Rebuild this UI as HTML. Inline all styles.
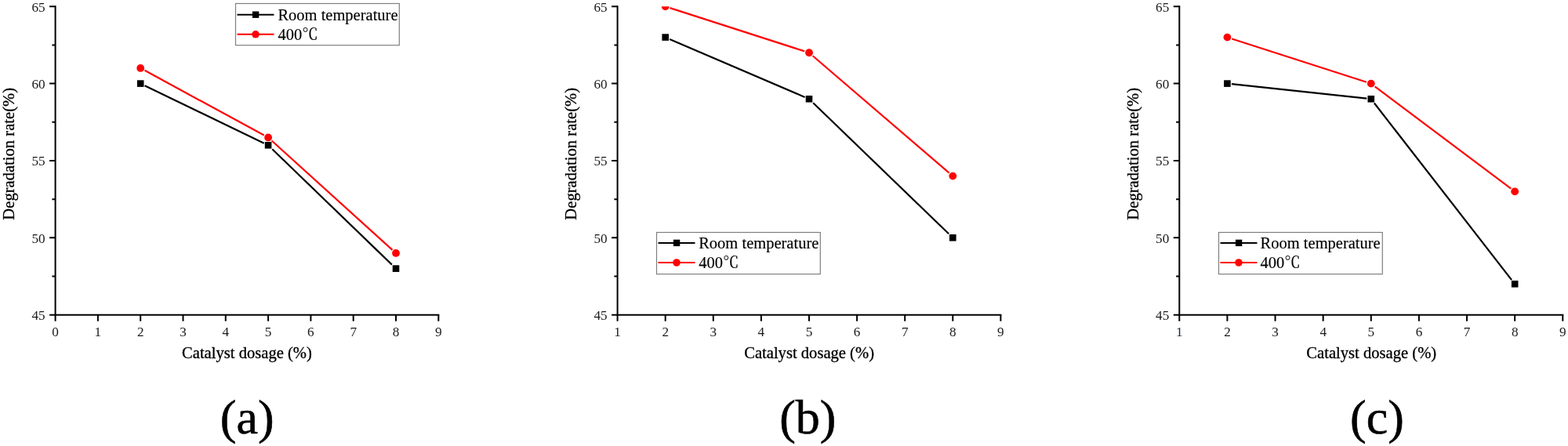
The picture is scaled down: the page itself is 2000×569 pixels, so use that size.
<!DOCTYPE html>
<html><head><meta charset="utf-8"><title>Degradation rate vs catalyst dosage</title>
<style>
html,body{margin:0;padding:0;background:#fff;}
body{width:2000px;height:569px;overflow:hidden;}
svg{display:block;}
text{font-family:'Liberation Serif', 'Noto Serif CJK SC', serif;fill:#000;}
.tl{font-size:17.2px;fill:#1a1a1a;}
.at{font-size:20.6px;stroke:#000;stroke-width:0.3px;}
.lg{font-size:20.5px;stroke:#000;stroke-width:0.15px;}
.pl{font-size:62px;stroke:#000;stroke-width:0.6px;}
</style></head><body>
<svg width="2000" height="569" viewBox="0 0 2000 569">
<g><path d="M70.60 7.25V401.65H560.30" fill="none" stroke="#000" stroke-width="2"/><path d="M63.10 401.65H70.60M63.10 303.30H70.60M63.10 204.95H70.60M63.10 106.60H70.60M63.10 8.25H70.60M66.40 352.48H70.60M66.40 254.13H70.60M66.40 155.78H70.60M66.40 57.43H70.60M70.60 401.65V409.85M124.90 401.65V409.85M179.20 401.65V409.85M233.50 401.65V409.85M287.80 401.65V409.85M342.10 401.65V409.85M396.40 401.65V409.85M450.70 401.65V409.85M505.00 401.65V409.85M559.30 401.65V409.85" fill="none" stroke="#000" stroke-width="2"/><text transform="translate(57.60 408.05) scale(1 1.0)" class="tl" text-anchor="end">45</text><text transform="translate(57.60 309.70) scale(1 1.0)" class="tl" text-anchor="end">50</text><text transform="translate(57.60 211.35) scale(1 1.0)" class="tl" text-anchor="end">55</text><text transform="translate(57.60 113.00) scale(1 1.0)" class="tl" text-anchor="end">60</text><text transform="translate(57.60 14.65) scale(1 1.0)" class="tl" text-anchor="end">65</text><text transform="translate(70.60 429.1) scale(1 1.03)" class="tl" text-anchor="middle">0</text><text transform="translate(124.90 429.1) scale(1 1.03)" class="tl" text-anchor="middle">1</text><text transform="translate(179.20 429.1) scale(1 1.03)" class="tl" text-anchor="middle">2</text><text transform="translate(233.50 429.1) scale(1 1.03)" class="tl" text-anchor="middle">3</text><text transform="translate(287.80 429.1) scale(1 1.03)" class="tl" text-anchor="middle">4</text><text transform="translate(342.10 429.1) scale(1 1.03)" class="tl" text-anchor="middle">5</text><text transform="translate(396.40 429.1) scale(1 1.03)" class="tl" text-anchor="middle">6</text><text transform="translate(450.70 429.1) scale(1 1.03)" class="tl" text-anchor="middle">7</text><text transform="translate(505.00 429.1) scale(1 1.03)" class="tl" text-anchor="middle">8</text><text transform="translate(559.30 429.1) scale(1 1.03)" class="tl" text-anchor="middle">9</text><text x="232.00" y="456.9" class="at">Catalyst dosage (%)</text><text transform="translate(18.03 196.3) rotate(-90)" class="at" text-anchor="middle">Degradation rate(%)</text><clipPath id="c0"><rect x="70.60" y="8.15" width="498.70" height="403.40"/></clipPath><g clip-path="url(#c0)"><path d="M184.58 109.20L336.72 182.68M347.26 190.27L499.84 337.65" fill="none" stroke="#000" stroke-width="2.2"/><rect x="174.90" y="102.30" width="8.60" height="8.60" fill="#000"/><rect x="337.80" y="180.98" width="8.60" height="8.60" fill="#000"/><rect x="500.70" y="338.34" width="8.60" height="8.60" fill="#000"/><path d="M184.56 89.84L336.74 172.53M346.62 179.54L500.48 318.88" fill="none" stroke="#f00" stroke-width="2.2"/><circle cx="179.20" cy="86.93" r="4.9" fill="#f00"/><circle cx="342.10" cy="175.45" r="4.9" fill="#f00"/><circle cx="505.00" cy="322.97" r="4.9" fill="#f00"/></g><rect x="300.50" y="4.50" width="208.8" height="53.2" fill="#fff" stroke="#7f7f7f" stroke-width="1.2"/><path d="M302.50 18.70H349.50" stroke="#000" stroke-width="2"/><rect x="321.90" y="14.50" width="8.4" height="8.4" fill="#000"/><path d="M302.50 43.80H349.50" stroke="#f00" stroke-width="2"/><circle cx="326.00" cy="43.80" r="4.8" fill="#f00"/><text x="354.40" y="25.50" class="lg">Room temperature</text><text x="354.40" y="51.00" class="lg">400℃</text><text x="315.20" y="552.5" class="pl" text-anchor="middle">(a)</text></g>
<g><path d="M787.60 7.25V401.65H1277.40" fill="none" stroke="#000" stroke-width="2"/><path d="M780.10 401.65H787.60M780.10 303.30H787.60M780.10 204.95H787.60M780.10 106.60H787.60M780.10 8.25H787.60M783.40 352.48H787.60M783.40 254.13H787.60M783.40 155.78H787.60M783.40 57.43H787.60M787.60 401.65V409.85M848.70 401.65V409.85M909.80 401.65V409.85M970.90 401.65V409.85M1032.00 401.65V409.85M1093.10 401.65V409.85M1154.20 401.65V409.85M1215.30 401.65V409.85M1276.40 401.65V409.85" fill="none" stroke="#000" stroke-width="2"/><text transform="translate(774.60 408.05) scale(1 1.0)" class="tl" text-anchor="end">45</text><text transform="translate(774.60 309.70) scale(1 1.0)" class="tl" text-anchor="end">50</text><text transform="translate(774.60 211.35) scale(1 1.0)" class="tl" text-anchor="end">55</text><text transform="translate(774.60 113.00) scale(1 1.0)" class="tl" text-anchor="end">60</text><text transform="translate(774.60 14.65) scale(1 1.0)" class="tl" text-anchor="end">65</text><text transform="translate(787.60 429.1) scale(1 1.03)" class="tl" text-anchor="middle">1</text><text transform="translate(848.70 429.1) scale(1 1.03)" class="tl" text-anchor="middle">2</text><text transform="translate(909.80 429.1) scale(1 1.03)" class="tl" text-anchor="middle">3</text><text transform="translate(970.90 429.1) scale(1 1.03)" class="tl" text-anchor="middle">4</text><text transform="translate(1032.00 429.1) scale(1 1.03)" class="tl" text-anchor="middle">5</text><text transform="translate(1093.10 429.1) scale(1 1.03)" class="tl" text-anchor="middle">6</text><text transform="translate(1154.20 429.1) scale(1 1.03)" class="tl" text-anchor="middle">7</text><text transform="translate(1215.30 429.1) scale(1 1.03)" class="tl" text-anchor="middle">8</text><text transform="translate(1276.40 429.1) scale(1 1.03)" class="tl" text-anchor="middle">9</text><text x="949.15" y="456.9" class="at">Catalyst dosage (%)</text><text transform="translate(735.08 196.3) rotate(-90)" class="at" text-anchor="middle">Degradation rate(%)</text><clipPath id="c1"><rect x="787.60" y="8.15" width="498.80" height="403.40"/></clipPath><g clip-path="url(#c1)"><path d="M854.10 49.91L1026.60 123.95M1037.16 131.26L1210.14 298.31" fill="none" stroke="#000" stroke-width="2.2"/><rect x="844.40" y="43.29" width="8.60" height="8.60" fill="#000"/><rect x="1027.70" y="121.97" width="8.60" height="8.60" fill="#000"/><rect x="1211.00" y="299.00" width="8.60" height="8.60" fill="#000"/><path d="M854.51 10.12L1026.19 65.39M1036.63 71.23L1210.67 220.65" fill="none" stroke="#f00" stroke-width="2.2"/><circle cx="848.70" cy="8.25" r="4.9" fill="#f00"/><circle cx="1032.00" cy="67.26" r="4.9" fill="#f00"/><circle cx="1215.30" cy="224.62" r="4.9" fill="#f00"/></g><rect x="837.50" y="296.50" width="208.8" height="53.2" fill="#fff" stroke="#7f7f7f" stroke-width="1.2"/><path d="M839.50 309.90H886.50" stroke="#000" stroke-width="2"/><rect x="858.90" y="305.70" width="8.4" height="8.4" fill="#000"/><path d="M839.50 335.00H886.50" stroke="#f00" stroke-width="2"/><circle cx="863.00" cy="335.00" r="4.8" fill="#f00"/><text x="891.20" y="316.70" class="lg">Room temperature</text><text x="891.20" y="342.20" class="lg">400℃</text><text x="1030.35" y="552.5" class="pl" text-anchor="middle">(b)</text></g>
<g><path d="M1504.30 7.25V401.65H1994.30" fill="none" stroke="#000" stroke-width="2"/><path d="M1496.80 401.65H1504.30M1496.80 303.30H1504.30M1496.80 204.95H1504.30M1496.80 106.60H1504.30M1496.80 8.25H1504.30M1500.10 352.48H1504.30M1500.10 254.13H1504.30M1500.10 155.78H1504.30M1500.10 57.43H1504.30M1504.30 401.65V409.85M1565.42 401.65V409.85M1626.55 401.65V409.85M1687.67 401.65V409.85M1748.80 401.65V409.85M1809.92 401.65V409.85M1871.05 401.65V409.85M1932.17 401.65V409.85M1993.30 401.65V409.85" fill="none" stroke="#000" stroke-width="2"/><text transform="translate(1491.30 408.05) scale(1 1.0)" class="tl" text-anchor="end">45</text><text transform="translate(1491.30 309.70) scale(1 1.0)" class="tl" text-anchor="end">50</text><text transform="translate(1491.30 211.35) scale(1 1.0)" class="tl" text-anchor="end">55</text><text transform="translate(1491.30 113.00) scale(1 1.0)" class="tl" text-anchor="end">60</text><text transform="translate(1491.30 14.65) scale(1 1.0)" class="tl" text-anchor="end">65</text><text transform="translate(1504.30 429.1) scale(1 1.03)" class="tl" text-anchor="middle" style="fill:#1c2540">1</text><text transform="translate(1565.42 429.1) scale(1 1.03)" class="tl" text-anchor="middle">2</text><text transform="translate(1626.55 429.1) scale(1 1.03)" class="tl" text-anchor="middle">3</text><text transform="translate(1687.67 429.1) scale(1 1.03)" class="tl" text-anchor="middle">4</text><text transform="translate(1748.80 429.1) scale(1 1.03)" class="tl" text-anchor="middle">5</text><text transform="translate(1809.92 429.1) scale(1 1.03)" class="tl" text-anchor="middle">6</text><text transform="translate(1871.05 429.1) scale(1 1.03)" class="tl" text-anchor="middle">7</text><text transform="translate(1932.17 429.1) scale(1 1.03)" class="tl" text-anchor="middle">8</text><text transform="translate(1993.30 429.1) scale(1 1.03)" class="tl" text-anchor="middle">9</text><text x="1666.30" y="456.9" class="at">Catalyst dosage (%)</text><text transform="translate(1451.98 196.3) rotate(-90)" class="at" text-anchor="middle">Degradation rate(%)</text><clipPath id="c2"><rect x="1504.30" y="8.15" width="499.00" height="403.40"/></clipPath><g clip-path="url(#c2)"><path d="M1570.92 107.19L1743.31 125.68M1752.88 131.52L1928.10 357.06" fill="none" stroke="#000" stroke-width="2.2"/><rect x="1561.12" y="102.30" width="8.60" height="8.60" fill="#000"/><rect x="1744.50" y="121.97" width="8.60" height="8.60" fill="#000"/><rect x="1927.88" y="358.01" width="8.60" height="8.60" fill="#000"/><path d="M1571.23 49.46L1742.99 104.73M1753.68 110.26L1927.30 240.63" fill="none" stroke="#f00" stroke-width="2.2"/><circle cx="1565.42" cy="47.59" r="4.9" fill="#f00"/><circle cx="1748.80" cy="106.60" r="4.9" fill="#f00"/><circle cx="1932.17" cy="244.29" r="4.9" fill="#f00"/></g><rect x="1554.50" y="296.50" width="208.8" height="53.2" fill="#fff" stroke="#7f7f7f" stroke-width="1.2"/><path d="M1556.50 309.90H1603.50" stroke="#000" stroke-width="2"/><rect x="1575.90" y="305.70" width="8.4" height="8.4" fill="#000"/><path d="M1556.50 335.00H1603.50" stroke="#f00" stroke-width="2"/><circle cx="1580.00" cy="335.00" r="4.8" fill="#f00"/><text x="1607.60" y="316.70" class="lg">Room temperature</text><text x="1607.60" y="342.20" class="lg">400℃</text><text x="1756.40" y="552.5" class="pl" text-anchor="middle">(c)</text></g>
</svg>
</body></html>
